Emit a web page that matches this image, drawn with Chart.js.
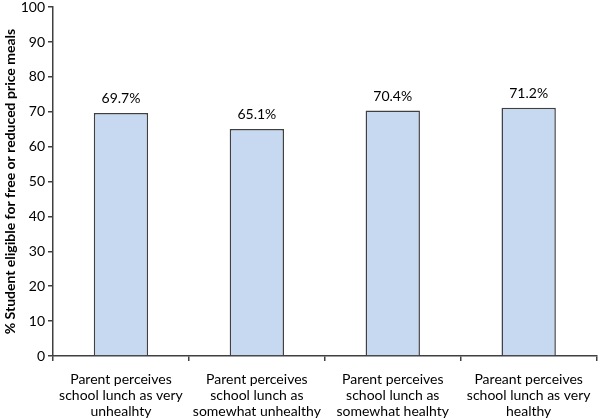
<!DOCTYPE html>
<html>
<head>
<meta charset="utf-8">
<script src="https://cdn.jsdelivr.net/npm/chart.js@4/dist/chart.umd.min.js"></script>
<style>
  html,body{margin:0;padding:0;background:#fff;}
  #wrap{width:601px;height:420px;}
</style>
</head>
<body>
<div id="wrap"><canvas id="chart" width="601" height="420"></canvas></div>
<script>
// categories (typos kept as in the original)
const categories = [
  ['Parent perceives', 'school lunch as very', 'unhealhty'],
  ['Parent perceives', 'school lunch as', 'somewhat unhealthy'],
  ['Parent perceives', 'school lunch as', 'somewhat healhty'],
  ['Pareant perceives', 'school lunch as very', 'healthy']
];
const values = [69.7, 65.1, 70.4, 71.2];
const yTitle = '% Student eligible for free or reduced price meals';

const fontFamily = 'Lato, "Open Sans", sans-serif';

// draw "69.7%" etc above each bar
const valueLabels = {
  id: 'valueLabels',
  afterDatasetsDraw(chart){
    const c = chart.ctx;
    const meta = chart.getDatasetMeta(0);
    c.save();
    c.font = '14px ' + fontFamily;
    c.fillStyle = '#000';
    c.textAlign = 'center';
    c.textBaseline = 'bottom';
    meta.data.forEach((bar, i)=>{
      c.fillText(values[i].toFixed(1) + '%', bar.x, bar.y - 7);
    });
    c.restore();
  }
};

new Chart(document.getElementById('chart'), {
  type: 'bar',
  data: {
    labels: categories,
    datasets: [{
      data: values,
      backgroundColor: '#c6d9f1',
      borderColor: '#404040',
      borderWidth: 1.5,
      categoryPercentage: 1,
      barPercentage: 0.4
    }]
  },
  options: {
    responsive: false,
    animation: false,
    layout: {padding: {top: 2, right: 4, left: 2, bottom: 0}},
    plugins: {
      legend: {display: false},
      tooltip: {enabled: false}
    },
    scales: {
      x: {
        afterFit(s){ s.height = 64; },
        grid: {display: true, drawOnChartArea: false, offset: true, color: '#404040', tickLength: 5, lineWidth: 1.5},
        border: {color: '#404040', width: 1.5},
        ticks: {color: '#000', font: {family: fontFamily, size: 14, lineHeight: 1.15}, maxRotation: 0, autoSkip: false, padding: 10}
      },
      y: {
        min: 0, max: 100,
        afterFit(s){ s.width = 51; },
        grid: {display: true, drawOnChartArea: false, color: '#404040', tickLength: 5, lineWidth: 1.5},
        border: {color: '#404040', width: 1.5},
        ticks: {stepSize: 10, color: '#000', font: {family: fontFamily, size: 14, lineHeight: 0.6}, padding: 3},
        title: {display: true, text: yTitle, color: '#000', font: {family: fontFamily, size: 14, weight: 'bold'}, padding: 0}
      }
    }
  },
  plugins: [valueLabels]
});
</script>
</body>
</html>
